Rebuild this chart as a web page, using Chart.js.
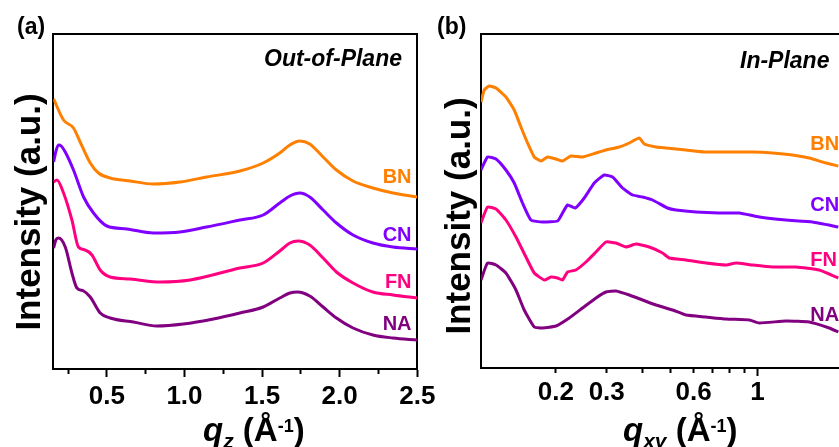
<!DOCTYPE html>
<html><head><meta charset="utf-8">
<script src="https://cdn.jsdelivr.net/npm/chart.js@4.4.1/dist/chart.umd.min.js"></script>
<style>
html,body{margin:0;padding:0;background:#fff;overflow:hidden;width:839px;height:447px;}
#wa{position:absolute;left:0;top:0;width:440px;height:447px;}
#wb{position:absolute;left:420px;top:0;width:440px;height:447px;}
canvas{display:block;}
</style></head><body>
<div id="wa"><canvas id="ca" width="440" height="447"></canvas></div>
<div id="wb"><canvas id="cb" width="440" height="447"></canvas></div>
<script>
// ---------- data: (a) Out-of-Plane, q_z (1/Å) vs intensity (a.u.) ----------
const seriesNames = ['BN','CN','FN','NA'];
const seriesColors = ['#FF8000','#8000FF','#FF0080','#800080'];

const oopBN_q = [0.157,0.221,0.285,0.328,0.393,0.446,0.521,0.650,0.800,0.971,1.143,1.357,1.507,1.614,1.679,1.743,1.807,1.893,1.979,2.086,2.214,2.343,2.500];
const oopBN_I = [271,250,242,228,207,197,192,189,186,188,193,199,207,217,225,229,226,213,200,189,182,177,173];
const oopCN_q = [0.157,0.174,0.189,0.206,0.232,0.285,0.350,0.414,0.500,0.629,0.800,0.971,1.143,1.357,1.507,1.614,1.679,1.743,1.807,1.893,1.979,2.086,2.214,2.343,2.500];
const oopCN_I = [208,220,225,224,218,200,173,157,144,141,137,138,143,150,155,167,174,177,173,160,147,135,127,123,121];
const oopFN_q = [0.157,0.178,0.221,0.275,0.317,0.360,0.404,0.457,0.521,0.650,0.843,1.036,1.357,1.507,1.614,1.679,1.732,1.807,1.893,1.979,2.086,2.214,2.343,2.500];
const oopFN_I = [188,190,177,150,123,120,115,100,93,91,88,90,102,107,119,127,129,125,112,98,87,78,75,72];
const oopNA_q = [0.157,0.171,0.189,0.232,0.275,0.307,0.350,0.393,0.457,0.521,0.671,0.822,0.993,1.186,1.357,1.507,1.614,1.679,1.728,1.807,1.893,1.979,2.086,2.214,2.343,2.500];
const oopNA_I = [122,130,132,123,97,82,79,73,57,52,48,44,46,51,57,63,72,77,78,74,63,52,42,35,32,30];

// ---------- data: (b) In-Plane, q_xy (1/Å) vs intensity (a.u.) ----------
const ipBN_q = [0.1100,0.1129,0.1175,0.1240,0.1342,0.1434,0.1513,0.1595,0.1683,0.1775,0.1871,0.2001,0.2109,0.2255,0.2474,0.2754,0.2981,0.3316,0.3593,0.3890,0.4048,0.4444,0.4814,0.5646,0.6624,0.7774,0.9609,1.127,1.322,1.511,1.726,1.905];
const ipBN_I = [268,280,284,282,273,260,243,227,213,209,213,211,209,214,213,217,220,223,227,232,226,223,222,220,218,218,218,217,215,212,207,204];
const ipCN_q = [0.1100,0.1159,0.1240,0.1342,0.1434,0.1532,0.1639,0.1798,0.2026,0.2109,0.2195,0.2334,0.2508,0.2716,0.2941,0.3143,0.3404,0.3688,0.3993,0.4325,0.4876,0.5215,0.6116,0.7365,0.8641,1.014,1.254,1.551,1.905];
const ipCN_I = [200,213,211,200,187,167,150,148,149,157,165,162,172,187,195,193,182,175,173,170,162,160,158,157,157,153,150,148,143];
const ipFN_q = [0.1100,0.1159,0.1240,0.1342,0.1454,0.1575,0.1683,0.1823,0.1922,0.2026,0.2109,0.2195,0.2347,0.2542,0.2754,0.2981,0.3230,0.3499,0.3790,0.4213,0.4685,0.4943,0.5646,0.6624,0.7774,0.8417,0.9609,1.127,1.359,1.636,1.905];
const ipFN_I = [147,163,161,150,133,113,97,90,93,92,90,98,100,108,118,128,127,123,126,123,117,112,110,107,105,107,105,103,103,100,92];
const ipNA_q = [0.1100,0.1159,0.1240,0.1342,0.1454,0.1553,0.1683,0.1798,0.2001,0.2225,0.2474,0.2754,0.2981,0.3230,0.3593,0.3993,0.4444,0.5075,0.5646,0.6624,0.7774,0.9359,1.014,1.254,1.511,1.772,1.905];
const ipNA_I = [90,107,105,97,80,60,43,42,44,52,62,72,78,79,75,70,65,60,55,53,51,50,47,49,48,42,38];

// ---------- tick values / labels ----------
const qzTicks = [0.25,0.5,0.75,1.0,1.25,1.5,1.75,2.0,2.25,2.5];
const qzLabeled = [0.5,1.0,1.5,2.0,2.5];
const qxyTicks = [0.2,0.3,0.4,0.5,0.6,0.7,0.8,0.9,1];
const qxyLabeled = [0.2,0.3,0.6,1];
const qxyLong = [1];

const FONT = "'Liberation Sans', Arial, Helvetica, sans-serif";
Chart.defaults.font.family = FONT;
Chart.defaults.color = '#000';

function mk(q, I){ return q.map((x,i)=>({x:x, y:I[i]})); }

const annot = {
  id:'annot',
  afterDraw(chart, args, o){
    const ctx = chart.ctx;
    ctx.save();
    ctx.fillStyle = '#000';
    ctx.font = 'bold 23px ' + FONT;
    ctx.textAlign = 'left'; ctx.textBaseline = 'middle';
    ctx.fillText(o.tag, o.tagX, o.tagY);
    ctx.font = 'italic bold 23px ' + FONT;
    ctx.textAlign = o.modeAlign; ctx.textBaseline = 'alphabetic';
    ctx.fillText(o.mode, o.modeX, o.modeY);
    ctx.font = 'bold 20px ' + FONT;
    ctx.textAlign = o.lblAlign; ctx.textBaseline = 'middle';
    seriesNames.forEach((n,i)=>{
      ctx.fillStyle = seriesColors[i];
      ctx.fillText(n, chart.scales.x.getPixelForValue(o.lblQ), chart.scales.y.getPixelForValue(o.lblI[i]));
    });
    ctx.fillStyle = '#000';
    ctx.save();
    ctx.translate(o.yTitleX, o.yTitleY); ctx.rotate(-Math.PI/2);
    ctx.font = 'bold 35px ' + FONT; ctx.textAlign = 'center'; ctx.textBaseline = 'alphabetic';
    ctx.fillText('Intensity (a.u.)', 0, 0);
    ctx.restore();
    let x = o.xTitleX;
    ctx.textAlign = 'left'; ctx.textBaseline = 'alphabetic';
    o.xTitle.forEach(p=>{
      ctx.font = (p.it ? 'italic ' : '') + 'bold ' + p.s + 'px ' + FONT;
      ctx.fillText(p.t, x, o.xTitleY + (p.dy || 0));
      x += ctx.measureText(p.t).width;
    });
    ctx.restore();
  }
};

function frameAxis(pos, axis){
  return {
    type:'linear', position:pos, axis:axis, display:true,
    ticks:{display:false},
    grid:{display:false, drawTicks:false},
    border:{display:true, width:2, color:'#000'},
    afterFit: s => { if (axis === 'x') s.height = 0; else s.width = 0; }
  };
}

function ds(q, I, i, smooth){
  return {
    label: seriesNames[i], data: mk(q, I), borderColor: seriesColors[i], backgroundColor: seriesColors[i],
    borderWidth: 3, pointRadius: 0, fill: false,
    cubicInterpolationMode: smooth ? 'monotone' : 'default', tension: smooth ? 0.4 : 0.15
  };
}

// ---------- chart (a) ----------
new Chart(document.getElementById('ca'), {
  type:'line',
  data:{ datasets:[
    ds(oopBN_q, oopBN_I, 0, true), ds(oopCN_q, oopCN_I, 1, true),
    ds(oopFN_q, oopFN_I, 2, true), ds(oopNA_q, oopNA_I, 3, true)
  ]},
  options:{
    responsive:false, animation:false, devicePixelRatio:1,
    layout:{ padding:{left:0, top:34, right:22.7, bottom:0}, autoPadding:false },
    plugins:{ legend:{display:false}, tooltip:{enabled:false},
      annot:{ tag:'(a)', tagX:17, tagY:28, mode:'Out-of-Plane', modeAlign:'right', modeX:402, modeY:66,
        lblAlign:'right', lblQ:2.463, lblI:[193,134.5,87.5,45.5],
        yTitleX:40, yTitleY:212, xTitleX:203, xTitleY:441,
        xTitle:[{t:'q',s:33,it:true},{t:'z',s:21,it:true,dy:7},{t:' (Å',s:33},{t:'-1',s:18,dy:-9},{t:')',s:33}] } },
    scales:{
      x:{ type:'linear', position:'bottom', min:0.155, max:2.5,
        afterBuildTicks: s => { s.ticks = qzTicks.map(v=>({value:v})); },
        afterFit: s => { s.height = 78; },
        ticks:{ autoSkip:false, maxRotation:0, padding:4, color:'#000', font:{size:26, weight:'bold'},
          callback: v => qzLabeled.includes(v) ? v.toFixed(1) : '' },
        grid:{ display:true, drawOnChartArea:false, drawTicks:true, tickLength:8, tickWidth:2, tickColor:'#000',
          tickBorderDash: c => (c.tick && qzLabeled.includes(c.tick.value)) ? [] : [4,40] },
        border:{ display:true, width:2, color:'#000' } },
      y:{ type:'linear', position:'left', min:1, max:336,
        ticks:{display:false}, grid:{display:false, drawTicks:false},
        border:{display:true, width:2, color:'#000'},
        afterFit: s => { s.width = 53.3; } },
      xT: frameAxis('top','x'),
      yR: frameAxis('right','y')
    }
  },
  plugins:[annot]
});

// ---------- chart (b) ----------
new Chart(document.getElementById('cb'), {
  type:'line',
  data:{ datasets:[
    ds(ipBN_q, ipBN_I, 0, false), ds(ipCN_q, ipCN_I, 1, false),
    ds(ipFN_q, ipFN_I, 2, false), ds(ipNA_q, ipNA_I, 3, false)
  ]},
  options:{
    responsive:false, animation:false, devicePixelRatio:1,
    layout:{ padding:{left:0, top:34, right:15.6, bottom:0}, autoPadding:false },
    plugins:{ legend:{display:false}, tooltip:{enabled:false},
      annot:{ tag:'(b)', tagX:17, tagY:28, mode:'In-Plane', modeAlign:'left', modeX:320, modeY:68,
        lblAlign:'left', lblQ:1.523, lblI:[226,165,110,54.5],
        yTitleX:50, yTitleY:216, xTitleX:203, xTitleY:441,
        xTitle:[{t:'q',s:33,it:true},{t:'xy',s:21,it:true,dy:7},{t:' (Å',s:33},{t:'-1',s:18,dy:-9},{t:')',s:33}] } },
    scales:{
      x:{ type:'logarithmic', position:'bottom', min:0.11, max:2,
        afterBuildTicks: s => { s.ticks = qxyTicks.map(v=>({value:v})); },
        afterFit: s => { s.height = 79; },
        ticks:{ autoSkip:false, maxRotation:0, padding:1, color:'#000', font:{size:26, weight:'bold'},
          callback: v => qxyLabeled.includes(v) ? String(v) : '' },
        grid:{ display:true, drawOnChartArea:false, drawTicks:true, tickLength:8, tickWidth:2, tickColor:'#000',
          tickBorderDash: c => (c.tick && qxyLong.includes(c.tick.value)) ? [] : [4,40] },
        border:{ display:true, width:2, color:'#000' } },
      y:{ type:'linear', position:'left', min:2, max:336,
        ticks:{display:false}, grid:{display:false, drawTicks:false},
        border:{display:true, width:2, color:'#000'},
        afterFit: s => { s.width = 61; } },
      xT: frameAxis('top','x')
    }
  },
  plugins:[annot]
});
</script>
</body></html>
